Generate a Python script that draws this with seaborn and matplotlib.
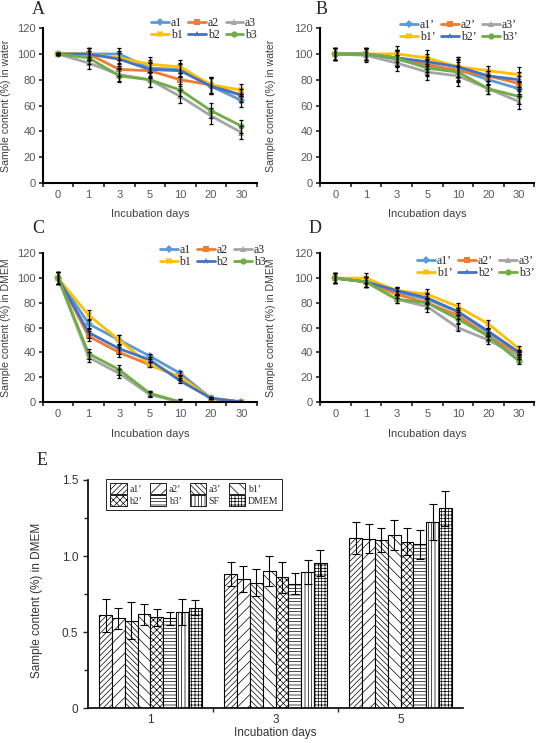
import numpy as np
import pandas as pd
import matplotlib
matplotlib.use('Agg')
import matplotlib.pyplot as plt
import seaborn as sns
from matplotlib.patches import Patch
from matplotlib.ticker import FixedLocator

# ---- data ----
days = ['0', '1', '3', '5', '10', '20', '30']
names = ['a1', 'a2', 'a3', 'b1', 'b2', 'b3']
names_p = ['a1’', 'a2’', 'a3’', 'b1’', 'b2’', 'b3’']

# A: sample content in water (a1, a2, a3, b1, b2, b3)
water_a1 = [100, 100, 100, 89, 88, 75, 64]
water_a2 = [100, 100, 88, 87, 80, 76, 68]
water_a3 = [100, 93, 84, 80, 67, 52, 39]
water_b1 = [100, 100, 97, 92, 90, 76, 72]
water_b2 = [100, 100, 96, 88, 87, 75, 68]
water_b3 = [100, 97, 83, 80, 72, 56, 44]
water_err = [1, 5, 5, 6, 5, 6, 5]

# B: primed samples in water
waterp_a1 = [100, 100, 96, 90, 88, 80, 73]
waterp_a2 = [100, 100, 97, 92, 87, 83, 77]
waterp_a3 = [100, 99, 93, 86, 83, 73, 63]
waterp_b1 = [100, 100, 100, 97, 90, 87, 84]
waterp_b2 = [100, 100, 97, 94, 90, 83, 80]
waterp_b3 = [100, 100, 97, 89, 86, 73, 67]
waterp_err = [5, 5, 6, 6, 8, 4, 6]

# C: sample content in DMEM
dmem_a1 = [100, 63, 50, 37, 23, 3, 0]
dmem_a2 = [100, 53, 40, 30, 20, 3, 0]
dmem_a3 = [100, 36, 23, 6, 0, np.nan, np.nan]
dmem_b1 = [100, 70, 50, 30, 20, 3, 0]
dmem_b2 = [100, 56, 43, 34, 17, 3, 0]
dmem_b3 = [100, 39, 26, 7, 0, np.nan, np.nan]
dmem_err = [5, 4, 4, 2, 2, 1, 1]

# D: primed samples in DMEM
dmemp_a1 = [100, 97, 89, 83, 73, 56, 40]
dmemp_a2 = [100, 97, 87, 80, 70, 53, 38]
dmemp_a3 = [100, 97, 83, 77, 60, 50, 37]
dmemp_b1 = [100, 100, 90, 87, 77, 63, 43]
dmemp_b2 = [100, 97, 90, 84, 73, 57, 40]
dmemp_b3 = [100, 97, 83, 80, 67, 53, 33]
dmemp_err = [4, 4, 3, 4, 3, 3, 2]

# E: bar chart
bar_days = ['1', '3', '5']
bar_names = ['a1’', 'a2’', 'a3’', 'b1’', 'b2’', 'b3’', 'SF', 'DMEM']
bar_day1 = [0.61, 0.59, 0.575, 0.617, 0.598, 0.59, 0.633, 0.66]
bar_day3 = [0.882, 0.85, 0.825, 0.902, 0.86, 0.817, 0.896, 0.955]
bar_day5 = [1.117, 1.115, 1.104, 1.137, 1.095, 1.077, 1.222, 1.314]
bar_err1 = [0.11, 0.07, 0.12, 0.07, 0.055, 0.045, 0.085, 0.05]
bar_err3 = [0.077, 0.087, 0.09, 0.098, 0.1, 0.07, 0.078, 0.085]
bar_err5 = [0.105, 0.095, 0.078, 0.1, 0.087, 0.094, 0.118, 0.115]

colors = ['#5B9BD5', '#ED7D31', '#A5A5A5', '#FFC000', '#4472C4', '#70AD47']
markers = ['D', 's', '^', 'X', '*', 'o']
hatches = ['//////', '///', '\\\\\\\\\\\\', '\\\\\\', 'xxxxx', '-----', '|||||', '+++++']

sns.set_style('ticks')
plt.rcParams['font.family'] = ['Liberation Sans', 'DejaVu Sans']
plt.rcParams['hatch.linewidth'] = 0.5
SERIF = ['Liberation Serif', 'DejaVu Serif']
TICKC = '#595959'


def line_panel(ax, values, labels, err, ylabel, anchor, ylab_x):
    rows = []
    for lab, vals in zip(labels, values):
        for i, v in enumerate(vals):
            rows.append({'pos': i, 'val': v, 'sample': lab})
    df = pd.DataFrame(rows)
    sns.lineplot(data=df, x='pos', y='val', hue='sample', style='sample',
                 palette=dict(zip(labels, colors)), markers=dict(zip(labels, markers)),
                 dashes=False, linewidth=2.0, markersize=4.5, markeredgewidth=0,
                 errorbar=None, sort=False, ax=ax, zorder=2)
    for vals in values:
        v = np.array(vals, dtype=float)
        ok = ~np.isnan(v)
        ax.errorbar(np.arange(len(days))[ok], v[ok], yerr=np.array(err)[ok], fmt='none',
                    ecolor='black', elinewidth=0.9, capsize=1.5, capthick=0.9, zorder=3)
    h, l = ax.get_legend_handles_labels()
    order = [0, 3, 1, 4, 2, 5]
    ax.legend([h[i] for i in order], [l[i] for i in order], ncol=3, loc='upper right',
              bbox_to_anchor=anchor, frameon=False, prop={'family': SERIF, 'size': 8.5},
              handlelength=1.5, handletextpad=0.15, columnspacing=0.5, labelspacing=0.0,
              borderaxespad=0, borderpad=0)
    ax.set_xlim(-0.5, 6.5)
    ax.set_ylim(0, 120)
    ax.set_yticks(range(0, 121, 20))
    ax.set_xticks(range(len(days)))
    ax.set_xticklabels(days)
    ax.xaxis.set_minor_locator(FixedLocator(np.arange(-0.5, 7, 1)))
    ax.tick_params(axis='x', which='major', length=0, pad=5, labelsize=8, labelcolor=TICKC)
    ax.tick_params(axis='x', which='minor', length=3, width=1.2)
    ax.tick_params(axis='y', length=3, width=1.2, pad=2, labelsize=8, labelcolor=TICKC)
    ax.set_xlabel('Incubation days', fontsize=8, color='#404040', labelpad=7)
    ax.set_ylabel(ylabel, fontsize=7.6, color='#404040')
    ax.yaxis.set_label_coords(ylab_x, 0.5)
    sns.despine(ax=ax)
    for s in ['left', 'bottom']:
        ax.spines[s].set_linewidth(1.5)
        ax.spines[s].set_color('black')


fig = plt.figure(figsize=(5.36, 7.43), dpi=100)
axA = fig.add_axes([0.080, 0.754, 0.399, 0.208])
axB = fig.add_axes([0.597, 0.754, 0.400, 0.208])
axC = fig.add_axes([0.080, 0.459, 0.399, 0.200])
axD = fig.add_axes([0.597, 0.459, 0.400, 0.200])
axE = fig.add_axes([0.164, 0.047, 0.700, 0.307])

line_panel(axA, [water_a1, water_a2, water_a3, water_b1, water_b2, water_b3], names,
           water_err, 'Sample content (%) in water', (1.0, 1.07), -0.15)
line_panel(axB, [waterp_a1, waterp_a2, waterp_a3, waterp_b1, waterp_b2, waterp_b3], names_p,
           waterp_err, 'Sample content (%) in water', (0.92, 1.06), -0.205)
line_panel(axC, [dmem_a1, dmem_a2, dmem_a3, dmem_b1, dmem_b2, dmem_b3], names,
           dmem_err, 'Sample content (%) in DMEM', (1.04, 1.06), -0.15)
line_panel(axD, [dmemp_a1, dmemp_a2, dmemp_a3, dmemp_b1, dmemp_b2, dmemp_b3], names_p,
           dmemp_err, 'Sample content (%) in DMEM', (1.0, 0.99), -0.205)

# ---- E: bars ----
rowsE = []
for d, vals in zip(bar_days, [bar_day1, bar_day3, bar_day5]):
    for n, v in zip(bar_names, vals):
        rowsE.append({'day': d, 'sample': n, 'val': v})
dfE = pd.DataFrame(rowsE)
sns.barplot(data=dfE, x='day', y='val', hue='sample', hue_order=bar_names,
            palette=['white'] * len(bar_names), edgecolor='black', linewidth=0.8,
            width=0.82, errorbar=None, legend=False, ax=axE)
errs = [bar_err1, bar_err3, bar_err5]
bar_conts = list(axE.containers)
for i, cont in enumerate(bar_conts):
    xs, hs = [], []
    for bar in cont:
        bar.set_hatch(hatches[i])
        xs.append(bar.get_x() + bar.get_width() / 2)
        hs.append(bar.get_height())
    axE.errorbar(xs, hs, yerr=[e[i] for e in errs], fmt='none', ecolor='black',
                 elinewidth=0.8, capsize=3, capthick=0.8, zorder=3)

handles = [Patch(facecolor='white', edgecolor='black', hatch=hatches[i], linewidth=0.6)
           for i in range(len(bar_names))]
order = [0, 4, 1, 5, 2, 6, 3, 7]
axE.legend([handles[i] for i in order], [bar_names[i] for i in order], ncol=4,
           loc='upper left', bbox_to_anchor=(0.048, 1.004), borderaxespad=0,
           prop={'family': SERIF, 'size': 7}, frameon=True, edgecolor='black',
           fancybox=False, framealpha=1, handlelength=1.7, handleheight=1.3,
           handletextpad=0.25, columnspacing=0.8, labelspacing=0.1, borderpad=0.45)
axE.legend_.get_frame().set_linewidth(0.6)

axE.set_xlim(-0.5, 2.5)
axE.set_ylim(0, 1.5)
axE.set_yticks([0, 0.5, 1.0, 1.5])
axE.set_yticklabels(['0', '0.5', '1.0', '1.5'])
axE.yaxis.set_minor_locator(FixedLocator([0.25, 0.75, 1.25]))
axE.xaxis.set_minor_locator(FixedLocator([0.5, 1.5]))
axE.tick_params(axis='both', which='major', length=3.5, width=1.0, labelsize=8.5,
                labelcolor='#333333')
axE.tick_params(axis='x', which='major', length=0, pad=4)
axE.tick_params(axis='both', which='minor', length=3, width=1.0)
axE.set_xlabel('Incubation days', fontsize=8.5, color='#333333', labelpad=1)
axE.set_ylabel('Sample content (%) in DMEM', fontsize=8.5, color='#333333')
axE.yaxis.set_label_coords(-0.12, 0.47)
sns.despine(ax=axE)
for s in ['left', 'bottom']:
    axE.spines[s].set_linewidth(1.2)
    axE.spines[s].set_color('black')

# panel letters
for txt, x, y in [('A', 0.071, 0.987), ('B', 0.599, 0.987), ('C', 0.071, 0.693),
                  ('D', 0.588, 0.693), ('E', 0.078, 0.380)]:
    fig.text(x, y, txt, family=SERIF, fontsize=13, ha='center', va='center')

fig.savefig('out.png', dpi=100)
